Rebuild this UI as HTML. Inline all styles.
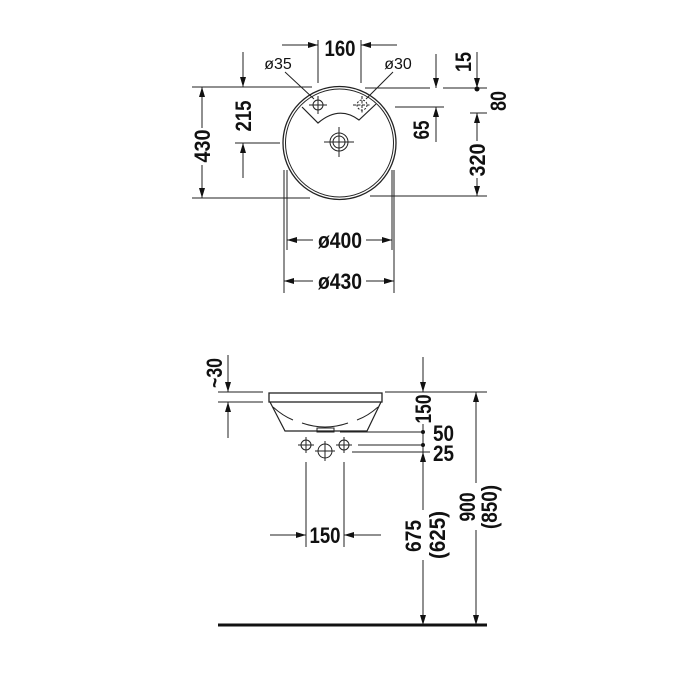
<!DOCTYPE html>
<html><head><meta charset="utf-8"><style>
html,body{margin:0;padding:0;background:#fff}
svg{display:block}
text{font-family:"Liberation Sans Narrow","Liberation Sans",sans-serif;font-weight:bold;font-size:22px;fill:#111}
</style></head><body>
<svg width="700" height="700" viewBox="0 0 700 700" xmlns="http://www.w3.org/2000/svg">
<defs>
<marker id="a" viewBox="0 0 10 6" refX="10" refY="3" markerWidth="10" markerHeight="6" markerUnits="userSpaceOnUse" orient="auto"><path d="M0,0 L10,3 L0,6 Z" fill="#111"/></marker>
</defs>
<g stroke="#222" stroke-width="1" fill="none">
<circle cx="339.5" cy="143" r="56.5" stroke-width="1.3"/>
<circle cx="339.5" cy="143" r="54"/>
<path d="M302,107 L318,123 Q339,105 359,120 L376,104" stroke-width="1.2"/>
<circle cx="318" cy="105" r="5"/>
<path d="M309,105 H327 M318,96 V114"/>
<circle cx="362" cy="105" r="5" stroke-dasharray="2,1.5"/>
<path d="M353,105 H371 M362,96 V114" stroke-dasharray="3,1.5"/>
<circle cx="339" cy="142" r="9"/>
<circle cx="339" cy="142" r="6"/>
<path d="M324,142 H354 M339,127 V157"/>
<path d="M285,72 L314,99 M393,72 L366,99"/>
<path d="M318,40 V83 M361,40 V83"/>
<path d="M282,45 H318" marker-end="url(#a)"/>
<path d="M397,45 H361" marker-end="url(#a)"/>
<path d="M192,87 H312 M192,198 H310"/>
<path d="M202,128 V87" marker-end="url(#a)"/>
<path d="M202,165 V198" marker-end="url(#a)"/>
<path d="M243,52 V87" marker-end="url(#a)"/>
<path d="M243,178 V143" marker-end="url(#a)"/>
<path d="M235,143 H280"/>
<path d="M365,88 H430 M443,88 H487"/>
<path d="M436,54 V88" marker-end="url(#a)"/>
<path d="M477,52 V88" marker-end="url(#a)"/>
<path d="M395,107 H444"/>
<path d="M436,142 V107" marker-end="url(#a)"/>
<path d="M470,113 H487"/>
<path d="M477,141 V113" marker-end="url(#a)"/>
<path d="M477,178 V196" marker-end="url(#a)"/>
<path d="M370,196 H487"/>
<path d="M287,170 V250 M392,170 V250 M284,170 V293 M394,170 V293"/>
<path d="M313,240 H287" marker-end="url(#a)"/>
<path d="M366,240 H392" marker-end="url(#a)"/>
<path d="M313,281 H284" marker-end="url(#a)"/>
<path d="M366,281 H394" marker-end="url(#a)"/>

<rect x="269" y="393" width="113" height="9" stroke-width="1.3"/>
<path d="M270,402 L285,431 H367 L381,402" stroke-width="1.2"/>
<path d="M273,407 Q283,416 293,420 M378,407 Q368,416 357,420 M302,423 Q325,431 348,423"/>
<rect x="317" y="428" width="17" height="4"/>
<path d="M340,432 H423 M358,445 H423 M352,452 H430"/>
<circle cx="306" cy="445" r="5"/><path d="M298,445 H314 M306,437 V453"/>
<circle cx="344" cy="445" r="5"/><path d="M336,445 H352 M344,437 V453"/>
<circle cx="325" cy="451" r="7"/><path d="M315,451 H335 M325,441 V461"/>
<path d="M218,392 H263 M218,402 H263"/>
<path d="M228,355 V392" marker-end="url(#a)"/>
<path d="M228,438 V402" marker-end="url(#a)"/>
<path d="M385,392 H487"/>
<path d="M423,357 V392" marker-end="url(#a)"/>
<path d="M423,424 V452"/>
<path d="M423,510 V452" marker-end="url(#a)"/>
<path d="M423,560 V625" marker-end="url(#a)"/>
<path d="M476,483 V392" marker-end="url(#a)"/>
<path d="M476,530 V625" marker-end="url(#a)"/>
<path d="M306,462 V547 M344,462 V547"/>
<path d="M270,535 H306" marker-end="url(#a)"/>
<path d="M381,535 H344" marker-end="url(#a)"/>
</g>
<g fill="#111">
<circle cx="477" cy="89" r="2.5"/>
<circle cx="423" cy="432" r="2"/>
<circle cx="423" cy="445" r="2"/>
</g>
<line x1="218" y1="625" x2="487" y2="625" stroke="#111" stroke-width="3"/>

<text x="340" y="56" text-anchor="middle" textLength="31" lengthAdjust="spacingAndGlyphs">160</text>
<text x="278" y="69" text-anchor="middle" style="font-size:16px;font-weight:normal">ø35</text>
<text x="398" y="69" text-anchor="middle" style="font-size:16px;font-weight:normal">ø30</text>
<text x="340" y="248" text-anchor="middle" textLength="44" lengthAdjust="spacingAndGlyphs">ø400</text>
<text x="340" y="289" text-anchor="middle" textLength="44" lengthAdjust="spacingAndGlyphs">ø430</text>
<text transform="translate(210,146) rotate(-90)" text-anchor="middle" textLength="33" lengthAdjust="spacingAndGlyphs">430</text>
<text transform="translate(251,116) rotate(-90)" text-anchor="middle" textLength="31" lengthAdjust="spacingAndGlyphs">215</text>
<text transform="translate(471,62) rotate(-90)" text-anchor="middle" textLength="20" lengthAdjust="spacingAndGlyphs">15</text>
<text transform="translate(506,101) rotate(-90)" text-anchor="middle" textLength="20" lengthAdjust="spacingAndGlyphs">80</text>
<text transform="translate(429,130) rotate(-90)" text-anchor="middle" textLength="19" lengthAdjust="spacingAndGlyphs">65</text>
<text transform="translate(485,160) rotate(-90)" text-anchor="middle" textLength="33" lengthAdjust="spacingAndGlyphs">320</text>
<text transform="translate(222,373) rotate(-90)" text-anchor="middle" textLength="30" lengthAdjust="spacingAndGlyphs">~30</text>
<text transform="translate(431,409) rotate(-90)" text-anchor="middle" textLength="29" lengthAdjust="spacingAndGlyphs">150</text>
<text x="433" y="441" textLength="21" lengthAdjust="spacingAndGlyphs">50</text>
<text x="433" y="461" textLength="21" lengthAdjust="spacingAndGlyphs">25</text>
<text x="325" y="543" text-anchor="middle" textLength="31" lengthAdjust="spacingAndGlyphs">150</text>
<text transform="translate(421,536) rotate(-90)" text-anchor="middle" textLength="32" lengthAdjust="spacingAndGlyphs">675</text>
<text transform="translate(445,535) rotate(-90)" text-anchor="middle" textLength="48" lengthAdjust="spacingAndGlyphs">(625)</text>
<text transform="translate(475,507) rotate(-90)" text-anchor="middle" textLength="29" lengthAdjust="spacingAndGlyphs">900</text>
<text transform="translate(497,507) rotate(-90)" text-anchor="middle" textLength="44" lengthAdjust="spacingAndGlyphs">(850)</text>
</svg>
</body></html>
